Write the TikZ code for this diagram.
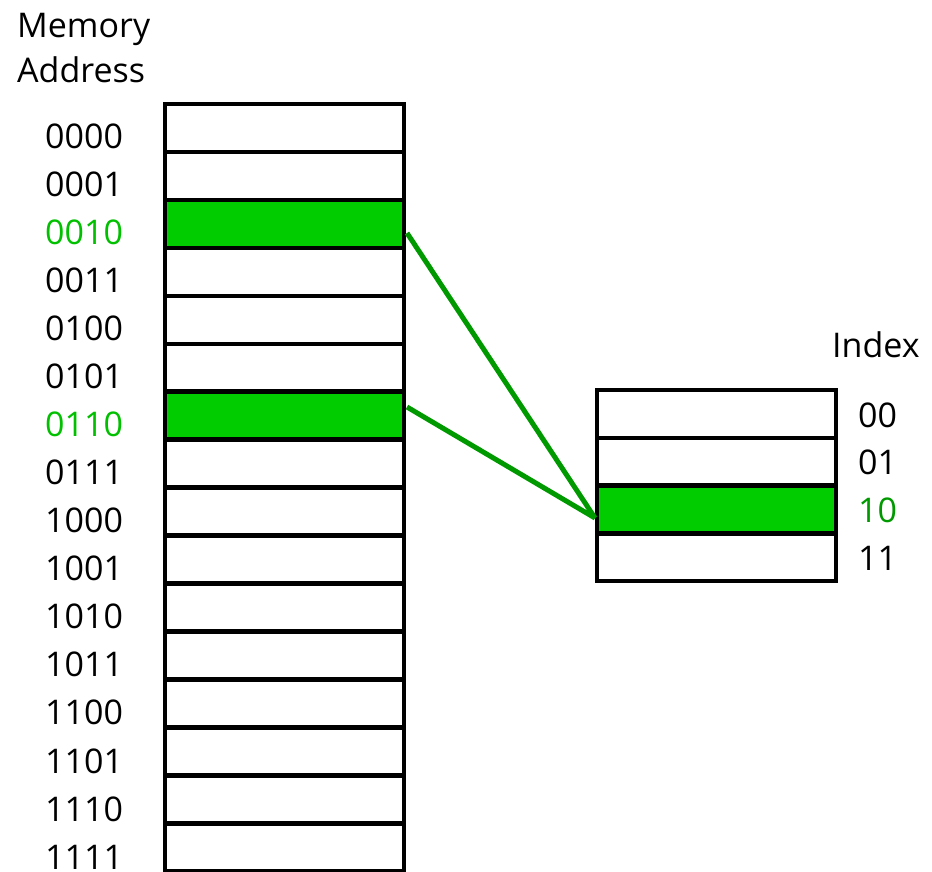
\documentclass[tikz,border=0pt]{standalone}
\usepackage{fontspec}
\setmainfont{Open Sans}
\definecolor{cellgreen}{HTML}{00CC00}
\definecolor{linegreen}{HTML}{009900}
\definecolor{textgreen}{HTML}{00C000}
\begin{document}
\begin{tikzpicture}[x=1pt,y=-1pt,
  cell/.style={draw=black, line width=4.5pt, fill=white, minimum width=239pt, minimum height=47.95pt, anchor=north west, inner sep=0pt, outer sep=0pt},
  icell/.style={cell, minimum height=47.8pt},
  hot/.style={cell, fill=cellgreen},
  ihot/.style={icell, fill=cellgreen},
  lbl/.style={anchor=base west, inner sep=0pt, font=\fontsize{34}{40}\selectfont},
  conn/.style={draw=linegreen, line width=5pt}]
\useasboundingbox (0,0) rectangle (932,871);
% titles
\node[lbl] (t1) at (17,37) {Memory};
\node[lbl] (t2) at (17,82) {Address};
\node[lbl] (t3) at (832,357) {Index};
% memory column
\foreach \i/\st in {0/cell,1/cell,2/hot,3/cell,4/cell,5/cell,6/hot,7/cell,8/cell,9/cell,10/cell,11/cell,12/cell,13/cell,14/cell,15/cell}{
  \node[\st] (m\i) at (165,104+47.95*\i) {};
}
\foreach \i/\txt/\c in {0/0000/black,1/0001/black,2/0010/textgreen,3/0011/black,4/0100/black,5/0101/black,6/0110/textgreen,7/0111/black,8/1000/black,9/1001/black,10/1010/black,11/1011/black,12/1100/black,13/1101/black,14/1110/black,15/1111/black}{
  \node[lbl, text=\c] (a\i) at (45,148+48.08*\i) {\txt};
}
% index table
\foreach \i/\st in {0/icell,1/icell,2/ihot,3/icell}{
  \node[\st] (r\i) at (597,390+47.8*\i) {};
}
\foreach \i/\txt/\c in {0/00/black,1/01/black,2/10/linegreen,3/11/black}{
  \node[lbl, text=\c] (b\i) at (858,427+47.8*\i) {\txt};
}
% connectors
\coordinate (s1) at (407,233);
\coordinate (s2) at (407,407);
\coordinate (e) at (595,518);
\draw[conn] (s1) -- (e);
\draw[conn] (s2) -- (e);
\end{tikzpicture}
\end{document}
